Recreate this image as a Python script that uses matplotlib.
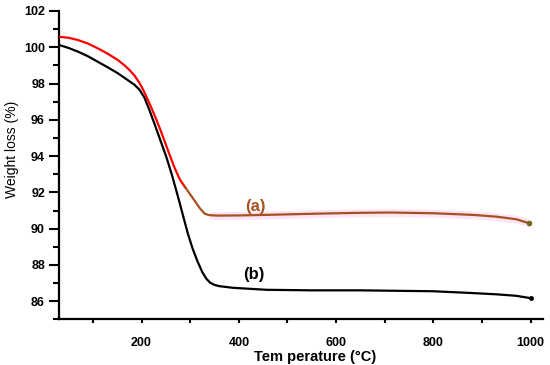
import numpy as np
import matplotlib.pyplot as plt
from matplotlib.ticker import MultipleLocator

# TGA curves
# (a): red part of the decomposition step
temp_a = [30, 50, 69, 90, 110, 130, 151, 166, 176, 186, 196, 204, 212, 220, 229, 238, 248, 258, 268, 279, 290]
wl_a = [100.58, 100.52, 100.4, 100.2, 99.94, 99.65, 99.3, 98.98, 98.72, 98.42, 98.02, 97.62, 97.15, 96.68,
        96.1, 95.5, 94.78, 94.05, 93.35, 92.7, 92.27]
# (a): brown part, after the step
temp_a2 = [290, 305, 320, 330, 340, 360, 400, 457, 550, 640, 711, 800, 881, 930, 970, 997]
wl_a2 = [92.27, 91.7, 91.12, 90.82, 90.74, 90.72, 90.73, 90.76, 90.82, 90.87, 90.89, 90.85, 90.76, 90.66,
         90.52, 90.3]

temp_b = [30, 50, 69, 90, 110, 130, 151, 170, 186, 196, 206, 216, 227, 239, 251, 262, 273, 285, 295, 305,
          315, 325, 333, 341, 350, 360, 388, 457, 550, 650, 711, 800, 881, 930, 970, 1000]
wl_b = [100.13, 99.96, 99.76, 99.5, 99.2, 98.9, 98.57, 98.22, 97.92, 97.65, 97.22, 96.55, 95.75, 94.85,
        93.95, 93.0, 91.95, 90.75, 89.75, 88.9, 88.2, 87.6, 87.25, 87.02, 86.9, 86.83, 86.74, 86.63,
        86.6, 86.6, 86.58, 86.55, 86.45, 86.38, 86.3, 86.17]

plt.rcParams['font.family'] = ['Liberation Sans', 'DejaVu Sans']

fig = plt.figure(figsize=(5.5, 3.65), dpi=100)
ax = fig.add_axes([0.107, 0.125, 0.88, 0.845])

# faint pink band seen behind curve (a)
ax.fill_between(temp_a2[4:], np.array(wl_a2[4:]) - 0.22, np.array(wl_a2[4:]) + 0.22,
                color='#fde4f6', lw=0, zorder=1)

ax.plot(temp_a, wl_a, color='#ff0000', lw=1.6, zorder=3)
ax.plot(temp_a2, wl_a2, color='#a5521e', lw=1.6, zorder=3)
ax.plot(temp_a2[-1], wl_a2[-1], 'o', color='#6b6a1e', ms=3, zorder=4)
ax.plot(temp_b, wl_b, color='black', lw=1.6, zorder=2)
ax.plot(temp_b[-1], wl_b[-1], 'o', color='black', ms=2.5, zorder=4)

ax.text(433, 91.2, '(a)', color='#a5521e', fontsize=12, fontweight='bold', ha='center', va='center')
ax.text(430, 87.5, '(b)', color='black', fontsize=12, fontweight='bold', ha='center', va='center')

ax.set_xlim(30, 1025)
ax.set_ylim(85, 102)
ax.xaxis.set_major_locator(MultipleLocator(200))
ax.xaxis.set_minor_locator(MultipleLocator(100))
ax.yaxis.set_major_locator(MultipleLocator(2))
ax.yaxis.set_minor_locator(MultipleLocator(1))
ax.set_yticks(np.arange(86, 103, 2))

for s in ['top', 'right']:
    ax.spines[s].set_visible(False)
for s in ['left', 'bottom']:
    ax.spines[s].set_linewidth(1.6)

ax.tick_params(axis='y', which='major', length=7, width=1.5, pad=3, labelsize=9)
ax.tick_params(axis='y', which='minor', length=4.5, width=1.5)
ax.tick_params(axis='x', which='both', length=3, width=1.5, pad=10, labelsize=9)
for lab in ax.get_xticklabels() + ax.get_yticklabels():
    lab.set_fontweight('bold')

ax.set_xlabel('Tem perature (°C)', fontsize=10.5, fontweight='bold')
ax.set_ylabel('Weight loss (%)', fontsize=10)
ax.xaxis.set_label_coords(0.529, -0.098)
ax.yaxis.set_label_coords(-0.082, 0.55)

fig.savefig('out.png', dpi=100)
